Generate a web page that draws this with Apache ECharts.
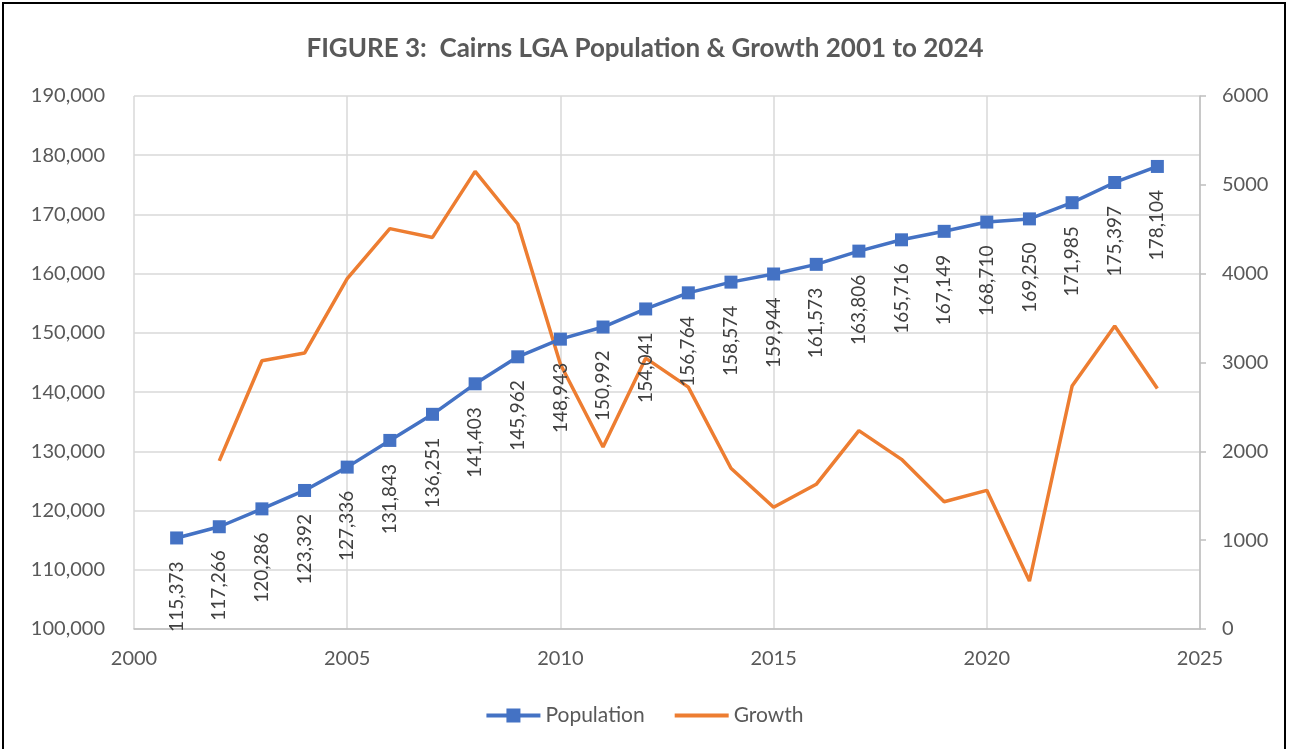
<!DOCTYPE html>
<html><head><meta charset="utf-8">
<script src="https://cdn.jsdelivr.net/npm/echarts@6/dist/echarts.min.js"></script>
<style>
html,body{margin:0;padding:0;background:#fff;}
#frame{position:absolute;left:2px;top:2px;width:1284px;height:760px;border:2px solid #000;box-sizing:border-box;}
#c{position:absolute;left:0;top:0;width:1290px;height:749px;}
</style></head>
<body><div id="frame"></div><div id="c"></div>
<script>
const years = [2001,2002,2003,2004,2005,2006,2007,2008,2009,2010,2011,2012,2013,2014,2015,2016,2017,2018,2019,2020,2021,2022,2023,2024];
const population = [115373,117266,120286,123392,127336,131843,136251,141403,145962,148943,150992,154041,156764,158574,159944,161573,163806,165716,167149,168710,169250,171985,175397,178104];
const growthYears = [2002,2003,2004,2005,2006,2007,2008,2009,2010,2011,2012,2013,2014,2015,2016,2017,2018,2019,2020,2021,2022,2023,2024];
const growth = [1893,3020,3106,3944,4507,4408,5152,4559,2981,2049,3049,2723,1810,1370,1629,2233,1910,1433,1561,540,2735,3412,2707];

const FONT = 'Lato, "Open Sans", sans-serif';
const chart = echarts.init(document.getElementById('c'));
chart.setOption({
  animation:false,
  textStyle:{fontFamily:FONT,color:'#595959'},
  title:{text:'FIGURE 3:  Cairns LGA Population & Growth 2001 to 2024',left:'center',top:31,
    textStyle:{fontFamily:FONT,fontSize:26,fontWeight:'bold',color:'#595959'}},
  legend:{top:700,left:'center',itemWidth:54,itemHeight:14,itemGap:30,
    textStyle:{fontSize:21,color:'#595959',fontFamily:FONT},
    data:[{name:'Population',icon:'path://M0,5 L20,5 L20,0 L34,0 L34,5 L54,5 L54,9 L34,9 L34,14 L20,14 L20,9 L0,9 Z'},
          {name:'Growth',icon:'path://M0,5 L54,5 L54,9 L0,9 Z'}]},
  grid:{left:134,right:90,top:96,bottom:120},
  xAxis:{type:'value',min:2000,max:2025,interval:5,
    axisLine:{show:true,lineStyle:{color:'#bfbfbf',width:1.5}},
    axisTick:{show:false},
    axisLabel:{fontSize:20,color:'#595959',margin:20,formatter:v=>String(v)},
    splitLine:{show:true,lineStyle:{color:'#d9d9d9',width:1.5}}},
  yAxis:[
    {type:'value',min:100000,max:190000,interval:10000,
      axisLine:{show:false},axisTick:{show:false},
      axisLabel:{fontSize:20,color:'#595959',margin:29,formatter:v=>v.toLocaleString('en-US')},
      splitLine:{show:true,lineStyle:{color:'#d9d9d9',width:1.5}}},
    {type:'value',min:0,max:6000,interval:1000,position:'right',
      axisLine:{show:true,lineStyle:{color:'#bfbfbf',width:1.5}},
      axisTick:{show:true,length:6,lineStyle:{color:'#bfbfbf',width:1.5}},
      axisLabel:{fontSize:20,color:'#595959',margin:22,formatter:v=>String(v)},
      splitLine:{show:false}}
  ],
  series:[
    {name:'Population',type:'line',yAxisIndex:0,
      data:years.map((y,i)=>[y,population[i]]),
      symbol:'rect',symbolSize:13,
      lineStyle:{color:'#4472C4',width:3.5},
      itemStyle:{color:'#4472C4'},
      label:{show:true,position:'bottom',distance:17,rotate:90,align:'right',verticalAlign:'middle',
        fontSize:19,color:'#404040',fontFamily:FONT,
        formatter:p=>p.value[1].toLocaleString('en-US')},
      z:3},
    {name:'Growth',type:'line',yAxisIndex:1,
      data:growthYears.map((y,i)=>[y,growth[i]]),
      showSymbol:false,symbol:'none',
      lineStyle:{color:'#ED7D31',width:3.5},
      itemStyle:{color:'#ED7D31'},z:2}
  ]
});
</script></body></html>
